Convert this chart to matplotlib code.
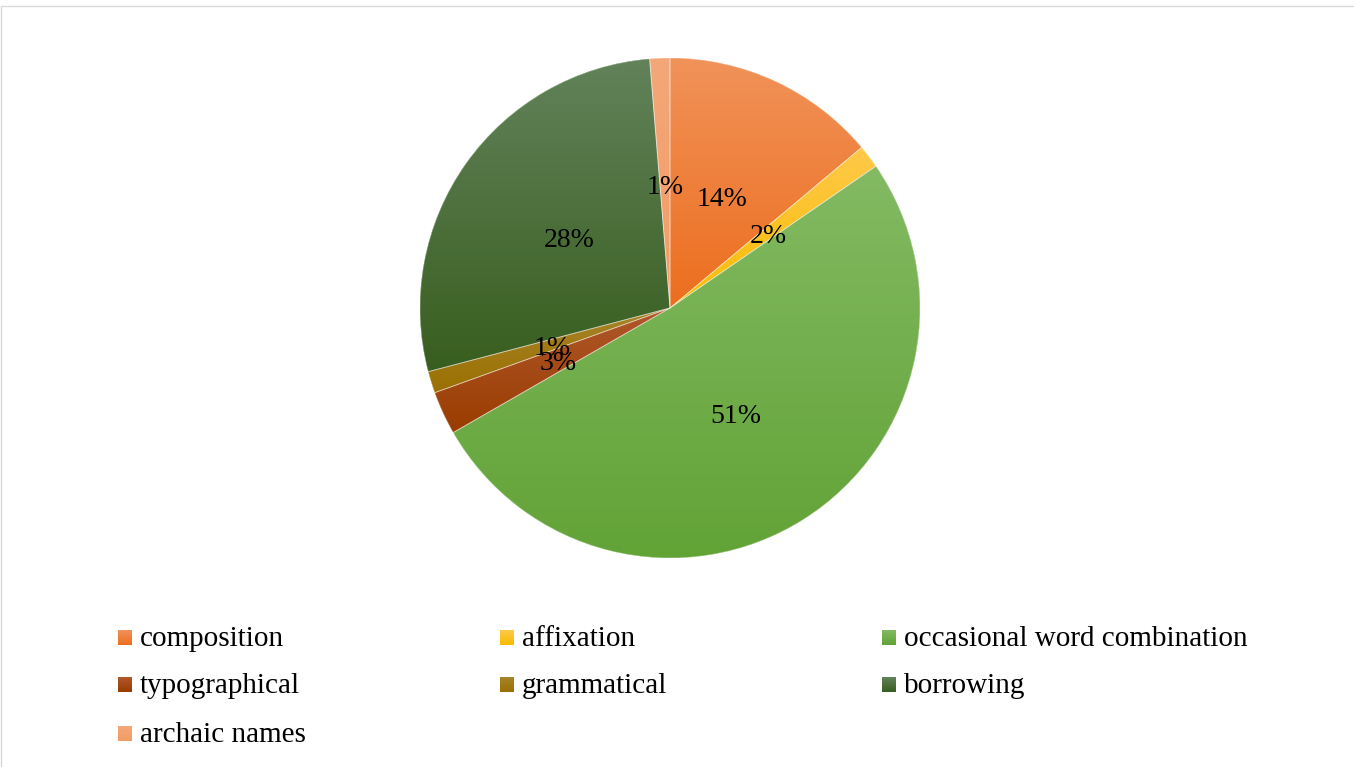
import numpy as np
import matplotlib
matplotlib.use("Agg")
import matplotlib.pyplot as plt
from matplotlib.patches import Rectangle, Wedge
from matplotlib.colors import to_rgb
from matplotlib.transforms import offset_copy

categories = ["composition", "affixation", "occasional word combination",
              "typographical", "grammatical", "borrowing", "archaic names"]
values = [13.9, 1.5, 51.3, 2.8, 1.4, 27.8, 1.3]
top_colors = ["#F19259", "#FFC94A", "#83BA63", "#B0582C", "#A8842A", "#62825A", "#F4A778"]
base_colors = ["#EC6E1E", "#F8BC00", "#62A336", "#993C00", "#9A7000", "#385E1E", "#F39C66"]

W, H = 1354, 767
fig = plt.figure(figsize=(W / 100, H / 100), dpi=100)
fig.patch.set_facecolor("white")

# outer chart border
fig.patches.append(Rectangle((1 / W, -0.01), 1.2, 1 - 6 / H + 0.01, transform=fig.transFigure,
                             fill=False, ec="#D9D9D9", lw=1.0))

cx, cy, R = 670, 308, 250
ax = fig.add_axes([(cx - R) / W, (H - cy - R) / H, 2 * R / W, 2 * R / H])
ax.set_xlim(-1, 1)
ax.set_ylim(-1, 1)
ax.set_aspect("equal")
ax.axis("off")


def fmt(p):
    return f"{int(p + 0.5 + 1e-9)}%"


wedges, texts, autotexts = ax.pie(values, colors=base_colors, startangle=90, counterclock=False,
                                  radius=1.0, autopct=fmt, pctdistance=0.495,
                                  wedgeprops=dict(linewidth=0),
                                  textprops=dict(family="Liberation Serif", fontsize=20, color="black"))
ax.set_xlim(-1, 1)
ax.set_ylim(-1, 1)

for w, tc, bc in zip(wedges, top_colors, base_colors):
    ext = w.get_path().get_extents()
    n = 256
    t = np.linspace(0, 1, n)[:, None]
    c0 = np.array(to_rgb(tc))
    c1 = np.array(to_rgb(bc))
    img = (c0[None, :] * (1 - t) + c1[None, :] * t)[:, None, :]
    im = ax.imshow(img, extent=(ext.x0, ext.x1, ext.y0, ext.y1), origin="upper",
                   aspect="auto", zorder=1.5, interpolation="bilinear")
    im.set_clip_path(w)
    ax.add_patch(Wedge(w.center, w.r, w.theta1, w.theta2, fill=False, ec="white",
                       lw=0.6, alpha=0.45, zorder=1.8))

shift = offset_copy(ax.transData, fig=fig, x=0, y=-3.5, units="dots")
for at in autotexts:
    at.set_zorder(5)
    at.set_transform(shift)

ax.set_xlim(-1, 1)
ax.set_ylim(-1, 1)

# legend (row-major, 3 columns)
col_x = [118, 500, 882]
row_y = [637.5, 684.5, 733.5]
for i, (name, tc, bc) in enumerate(zip(categories, top_colors, base_colors)):
    r, c = divmod(i, 3)
    x0 = col_x[c]
    yc = row_y[r]
    mk = fig.add_axes([x0 / W, (H - yc - 7.5) / H, 14 / W, 15 / H])
    t = np.linspace(0, 1, 32)[:, None]
    img = (np.array(to_rgb(tc))[None, :] * (1 - t) + np.array(to_rgb(bc))[None, :] * t)[:, None, :]
    mk.imshow(img, aspect="auto", interpolation="bilinear")
    mk.axis("off")
    fig.text((x0 + 22) / W, (H - yc - 8.5) / H, name, family="Liberation Serif", fontsize=21,
             color="black", va="baseline", ha="left")

fig.savefig("out.png", dpi=100, facecolor="white")
